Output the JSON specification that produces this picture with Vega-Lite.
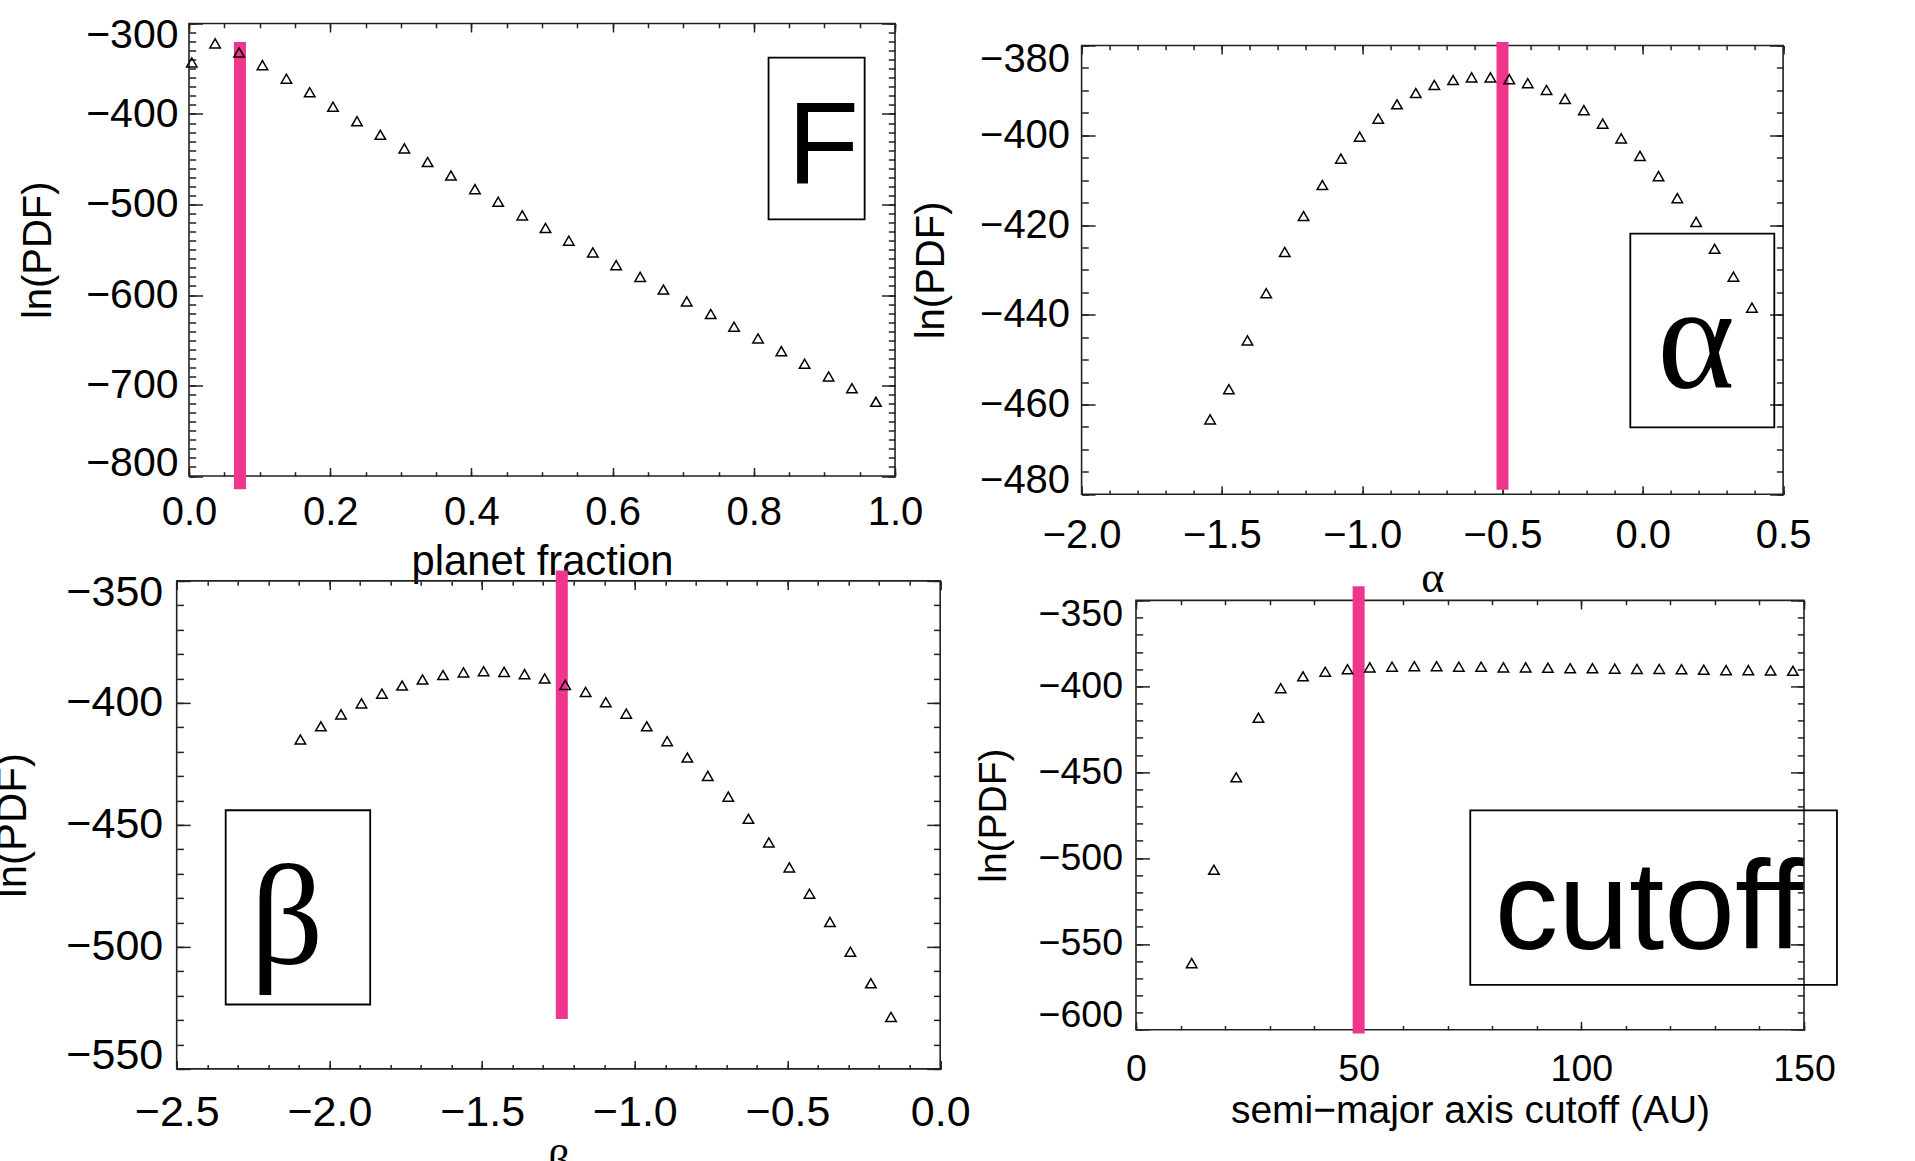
{
  "$schema": "https://vega.github.io/schema/vega-lite/v6.json",
  "background": "white",
  "padding": {"left": -19.6, "top": 13.5, "right": 0, "bottom": 0},
  "config": {
    "view": {"stroke": "#222", "strokeWidth": 1.6},
    "axis": {"grid": false, "domain": false, "labelFont": "Liberation Sans", "titleFont": "Liberation Sans", "labelColor": "#000", "titleColor": "#000", "tickColor": "#222", "tickWidth": 1.5, "labelOverlap": false, "labelBound": false, "titleFontWeight": "normal", "labelAngle": 0, "minExtent": 0, "maxExtent": 400}
  },
  "columns": 1,
  "align": "none",
  "spacing": -38.6,
  "concat": [
    {
      "spacing": -13.4,
      "hconcat": [
        {"width": 49.4, "height": 1, "data": {"values": []}, "mark": "point", "view": {"stroke": null, "fill": "transparent"}},
        {
          "width": 706, "height": 452.5,
          "resolve": {"axis": {"x": "independent", "y": "independent"}},
          "layer": [
            {"data": {"values": [{}]}, "mark": {"type": "rect", "filled": false, "stroke": "#000", "strokeWidth": 1.8},
             "encoding": {
               "x": {"datum": 0.8209, "type": "quantitative", "scale": {"domain": [0, 1], "nice": false, "zero": false}, "axis": {"orient": "bottom", "values": [0,0.05,0.1,0.15,0.2,0.25,0.3,0.35,0.4,0.45,0.5,0.55,0.6,0.65,0.7,0.75,0.8,0.85,0.9,0.95,1], "labels": false, "tickSize": -4.3, "title": null}},
               "x2": {"datum": 0.957},
               "y": {"datum": -337.7, "type": "quantitative", "scale": {"domain": [-800, -300], "nice": false, "zero": false}, "axis": {"orient": "left", "values": [-800,-790,-780,-770,-760,-750,-740,-730,-720,-710,-700,-690,-680,-670,-660,-650,-640,-630,-620,-610,-600,-590,-580,-570,-560,-550,-540,-530,-520,-510,-500,-490,-480,-470,-460,-450,-440,-430,-420,-410,-400,-390,-380,-370,-360,-350,-340,-330,-320,-310,-300], "labels": false, "tickSize": -6.7, "title": null}},
               "y2": {"datum": -516.4}}},
            {"data": {"values": [{}]}, "mark": {"type": "rule", "color": "#F0368C", "strokeWidth": 12, "strokeCap": "butt"},
             "encoding": {
               "x": {"datum": 0.0722, "type": "quantitative", "scale": {"domain": [0, 1], "nice": false, "zero": false}, "axis": {"orient": "top", "values": [0,0.2,0.4,0.6,0.8,1], "labels": false, "tickSize": -8.5, "title": null}},
               "y": {"datum": -320.4, "type": "quantitative", "scale": {"domain": [-800, -300], "nice": false, "zero": false}, "axis": {"orient": "right", "values": [-800,-700,-600,-500,-400,-300], "labels": false, "tickSize": -13.5, "title": null}},
               "y2": {"datum": -814.7}}},
            {"data": {"values": [{}]}, "mark": {"type": "text", "text": "F", "font": "Liberation Sans", "fontSize": 117, "align": "center", "baseline": "alphabetic", "color": "#000"},
             "encoding": {
               "x": {"datum": 0.8985, "type": "quantitative", "scale": {"domain": [0, 1], "nice": false, "zero": false}, "axis": {"orient": "top", "values": [0,0.05,0.1,0.15,0.2,0.25,0.3,0.35,0.4,0.45,0.5,0.55,0.6,0.65,0.7,0.75,0.8,0.85,0.9,0.95,1], "labels": false, "tickSize": -4.3, "title": null}},
               "y": {"datum": -477.3, "type": "quantitative", "scale": {"domain": [-800, -300], "nice": false, "zero": false}, "axis": {"orient": "right", "values": [-800,-790,-780,-770,-760,-750,-740,-730,-720,-710,-700,-690,-680,-670,-660,-650,-640,-630,-620,-610,-600,-590,-580,-570,-560,-550,-540,-530,-520,-510,-500,-490,-480,-470,-460,-450,-440,-430,-420,-410,-400,-390,-380,-370,-360,-350,-340,-330,-320,-310,-300], "labels": false, "tickSize": -6.7, "title": null}}}},
            {"data": {"values": [
              {"x": 0.004, "y": -343}, {"x": 0.037, "y": -322}, {"x": 0.071, "y": -332}, {"x": 0.104, "y": -346}, {"x": 0.138, "y": -361},
              {"x": 0.171, "y": -376}, {"x": 0.204, "y": -392}, {"x": 0.238, "y": -408}, {"x": 0.271, "y": -423}, {"x": 0.305, "y": -438},
              {"x": 0.338, "y": -453}, {"x": 0.371, "y": -468}, {"x": 0.405, "y": -483}, {"x": 0.438, "y": -497}, {"x": 0.472, "y": -512},
              {"x": 0.505, "y": -526}, {"x": 0.538, "y": -540}, {"x": 0.572, "y": -553}, {"x": 0.605, "y": -567}, {"x": 0.639, "y": -580},
              {"x": 0.672, "y": -594}, {"x": 0.705, "y": -607}, {"x": 0.739, "y": -621}, {"x": 0.772, "y": -635}, {"x": 0.806, "y": -648},
              {"x": 0.839, "y": -662}, {"x": 0.872, "y": -676}, {"x": 0.906, "y": -690}, {"x": 0.939, "y": -703}, {"x": 0.973, "y": -718}]},
             "mark": {"type": "point", "shape": "triangle-up", "filled": false, "stroke": "#000", "strokeWidth": 1.5, "size": 110, "opacity": 1},
             "encoding": {
               "x": {"field": "x", "type": "quantitative", "scale": {"domain": [0, 1], "nice": false, "zero": false}, "axis": {"orient": "bottom", "values": [0,0.2,0.4,0.6,0.8,1], "format": ".1f", "tickSize": -8.5, "labelPadding": 24.5, "labelFontSize": 40, "labelFlush": false, "title": "planet fraction", "titleFontSize": 41.7, "titleBaseline": "alphabetic", "titlePadding": 42.7}},
               "y": {"field": "y", "type": "quantitative", "scale": {"domain": [-800, -300], "nice": false, "zero": false}, "axis": {"orient": "left", "values": [-800,-700,-600,-500,-400,-300], "format": "d", "tickSize": -13.5, "labelPadding": 24.5, "labelFontSize": 41, "labelFlush": true, "labelFlushOffset": 8, "title": "ln(PDF)", "titleFontSize": 40, "titleAngle": 270, "titleBaseline": "bottom", "titlePadding": 27.5}}}}
          ]
        },
        {
          "spacing": 0,
          "vconcat": [
            {"width": 1, "height": 10.1, "data": {"values": []}, "mark": "point", "view": {"stroke": null, "fill": "transparent"}},
            {
              "width": 701.5, "height": 448.8,
              "resolve": {"axis": {"x": "independent", "y": "independent"}},
              "layer": [
                {"data": {"values": [{}]}, "mark": {"type": "rect", "filled": false, "stroke": "#000", "strokeWidth": 1.8},
                 "encoding": {
                   "x": {"datum": -0.0445, "type": "quantitative", "scale": {"domain": [-2, 0.5], "nice": false, "zero": false}, "axis": {"orient": "bottom", "values": [-2,-1.9,-1.8,-1.7,-1.6,-1.5,-1.4,-1.3,-1.2,-1.1,-1,-0.9,-0.8,-0.7,-0.6,-0.5,-0.4,-0.3,-0.2,-0.1,0,0.1,0.2,0.3,0.4,0.5], "labels": false, "tickSize": -4.3, "title": null}},
                   "x2": {"datum": 0.4687},
                   "y": {"datum": -421.9, "type": "quantitative", "scale": {"domain": [-480, -380], "nice": false, "zero": false}, "axis": {"orient": "left", "values": [-480,-475,-470,-465,-460,-455,-450,-445,-440,-435,-430,-425,-420,-415,-410,-405,-400,-395,-390,-385,-380], "labels": false, "tickSize": -6.7, "title": null}},
                   "y2": {"datum": -465.1}}},
                {"data": {"values": [{}]}, "mark": {"type": "rule", "color": "#F0368C", "strokeWidth": 12, "strokeCap": "butt"},
                 "encoding": {
                   "x": {"datum": -0.5, "type": "quantitative", "scale": {"domain": [-2, 0.5], "nice": false, "zero": false}, "axis": {"orient": "top", "values": [-2,-1.5,-1,-0.5,0,0.5], "labels": false, "tickSize": -8.5, "title": null}},
                   "y": {"datum": -379.2, "type": "quantitative", "scale": {"domain": [-480, -380], "nice": false, "zero": false}, "axis": {"orient": "right", "values": [-480,-460,-440,-420,-400,-380], "labels": false, "tickSize": -13.5, "title": null}},
                   "y2": {"datum": -479}}},
                {"data": {"values": [{}]}, "mark": {"type": "text", "text": "α", "font": "Liberation Serif", "fontSize": 148, "align": "center", "baseline": "alphabetic", "color": "#000"},
                 "encoding": {
                   "x": {"datum": 0.19, "type": "quantitative", "scale": {"domain": [-2, 0.5], "nice": false, "zero": false}, "axis": {"orient": "top", "values": [-2,-1.9,-1.8,-1.7,-1.6,-1.5,-1.4,-1.3,-1.2,-1.1,-1,-0.9,-0.8,-0.7,-0.6,-0.5,-0.4,-0.3,-0.2,-0.1,0,0.1,0.2,0.3,0.4,0.5], "labels": false, "tickSize": -4.3, "title": null}},
                   "y": {"datum": -456.3, "type": "quantitative", "scale": {"domain": [-480, -380], "nice": false, "zero": false}, "axis": {"orient": "right", "values": [-480,-475,-470,-465,-460,-455,-450,-445,-440,-435,-430,-425,-420,-415,-410,-405,-400,-395,-390,-385,-380], "labels": false, "tickSize": -6.7, "title": null}}}},
                {"data": {"values": [
                  {"x": -1.542, "y": -463.3}, {"x": -1.475, "y": -456.6}, {"x": -1.409, "y": -445.7}, {"x": -1.342, "y": -435.2}, {"x": -1.276, "y": -426.0},
                  {"x": -1.209, "y": -418.0}, {"x": -1.142, "y": -411.1}, {"x": -1.076, "y": -405.2}, {"x": -1.009, "y": -400.3}, {"x": -0.943, "y": -396.3},
                  {"x": -0.876, "y": -393.1}, {"x": -0.809, "y": -390.6}, {"x": -0.743, "y": -388.8}, {"x": -0.676, "y": -387.7}, {"x": -0.61, "y": -387.1},
                  {"x": -0.543, "y": -387.1}, {"x": -0.476, "y": -387.5}, {"x": -0.41, "y": -388.4}, {"x": -0.343, "y": -389.9}, {"x": -0.277, "y": -391.9},
                  {"x": -0.21, "y": -394.4}, {"x": -0.143, "y": -397.4}, {"x": -0.077, "y": -400.7}, {"x": -0.01, "y": -404.6}, {"x": 0.056, "y": -409.1},
                  {"x": 0.123, "y": -414.0}, {"x": 0.19, "y": -419.3}, {"x": 0.256, "y": -425.3}, {"x": 0.323, "y": -431.5}, {"x": 0.389, "y": -438.4}]},
                 "mark": {"type": "point", "shape": "triangle-up", "filled": false, "stroke": "#000", "strokeWidth": 1.5, "size": 110, "opacity": 1},
                 "encoding": {
                   "x": {"field": "x", "type": "quantitative", "scale": {"domain": [-2, 0.5], "nice": false, "zero": false}, "axis": {"orient": "bottom", "values": [-2,-1.5,-1,-0.5,0,0.5], "format": ".1f", "tickSize": -8.5, "labelPadding": 29.5, "labelFontSize": 40, "labelFlush": false, "title": "α", "titleFont": "Liberation Serif", "titleFontSize": 44, "titleBaseline": "alphabetic", "titlePadding": 36.2}},
                   "y": {"field": "y", "type": "quantitative", "scale": {"domain": [-480, -380], "nice": false, "zero": false}, "axis": {"orient": "left", "values": [-480,-460,-440,-420,-400,-380], "format": "d", "tickSize": -13.5, "labelPadding": 25.5, "labelFontSize": 40, "labelFlush": true, "labelFlushOffset": 6, "title": "ln(PDF)", "titleFontSize": 40, "titleAngle": 270, "titleBaseline": "bottom", "titlePadding": 27.5}}}}
              ]
            }
          ]
        }
      ]
    },
    {
      "spacing": 1.3,
      "hconcat": [
        {"width": 9, "height": 1, "data": {"values": []}, "mark": "point", "view": {"stroke": null, "fill": "transparent"}},
        {
          "width": 763.5, "height": 488,
          "resolve": {"axis": {"x": "independent", "y": "independent"}},
          "layer": [
            {"data": {"values": [{}]}, "mark": {"type": "rect", "filled": false, "stroke": "#000", "strokeWidth": 1.8},
             "encoding": {
               "x": {"datum": -2.3396, "type": "quantitative", "scale": {"domain": [-2.5, 0], "nice": false, "zero": false}, "axis": {"orient": "bottom", "values": [-2.5,-2.4,-2.3,-2.2,-2.1,-2,-1.9,-1.8,-1.7,-1.6,-1.5,-1.4,-1.3,-1.2,-1.1,-1,-0.9,-0.8,-0.7,-0.6,-0.5,-0.4,-0.3,-0.2,-0.1,0], "labels": false, "tickSize": -4.3, "title": null}},
               "x2": {"datum": -1.8664},
               "y": {"datum": -444.0, "type": "quantitative", "scale": {"domain": [-550, -350], "nice": false, "zero": false}, "axis": {"orient": "left", "values": [-550,-540,-530,-520,-510,-500,-490,-480,-470,-460,-450,-440,-430,-420,-410,-400,-390,-380,-370,-360,-350], "labels": false, "tickSize": -6.7, "title": null}},
               "y2": {"datum": -523.6}}},
            {"data": {"values": [{}]}, "mark": {"type": "rule", "color": "#F0368C", "strokeWidth": 12, "strokeCap": "butt"},
             "encoding": {
               "x": {"datum": -1.239, "type": "quantitative", "scale": {"domain": [-2.5, 0], "nice": false, "zero": false}, "axis": {"orient": "top", "values": [-2.5,-2,-1.5,-1,-0.5,0], "labels": false, "tickSize": -8.5, "title": null}},
               "y": {"datum": -345.7, "type": "quantitative", "scale": {"domain": [-550, -350], "nice": false, "zero": false}, "axis": {"orient": "right", "values": [-550,-500,-450,-400,-350], "labels": false, "tickSize": -13.5, "title": null}},
               "y2": {"datum": -529.5}}},
            {"data": {"values": [{}]}, "mark": {"type": "text", "text": "β", "font": "Liberation Serif", "fontSize": 144, "align": "center", "baseline": "alphabetic", "color": "#000"},
             "encoding": {
               "x": {"datum": -2.139, "type": "quantitative", "scale": {"domain": [-2.5, 0], "nice": false, "zero": false}, "axis": {"orient": "top", "values": [-2.5,-2.4,-2.3,-2.2,-2.1,-2,-1.9,-1.8,-1.7,-1.6,-1.5,-1.4,-1.3,-1.2,-1.1,-1,-0.9,-0.8,-0.7,-0.6,-0.5,-0.4,-0.3,-0.2,-0.1,0], "labels": false, "tickSize": -4.3, "title": null}},
               "y": {"datum": -507.2, "type": "quantitative", "scale": {"domain": [-550, -350], "nice": false, "zero": false}, "axis": {"orient": "right", "values": [-550,-540,-530,-520,-510,-500,-490,-480,-470,-460,-450,-440,-430,-420,-410,-400,-390,-380,-370,-360,-350], "labels": false, "tickSize": -6.7, "title": null}}}},
            {"data": {"values": [
              {"x": -2.095, "y": -415.0}, {"x": -2.028, "y": -409.6}, {"x": -1.962, "y": -404.7}, {"x": -1.895, "y": -400.2}, {"x": -1.828, "y": -396.2},
              {"x": -1.762, "y": -392.9}, {"x": -1.695, "y": -390.4}, {"x": -1.628, "y": -388.6}, {"x": -1.561, "y": -387.5}, {"x": -1.495, "y": -387.0},
              {"x": -1.428, "y": -387.3}, {"x": -1.361, "y": -388.2}, {"x": -1.295, "y": -390.0}, {"x": -1.228, "y": -392.6}, {"x": -1.161, "y": -395.5},
              {"x": -1.095, "y": -399.7}, {"x": -1.028, "y": -404.4}, {"x": -0.961, "y": -409.6}, {"x": -0.894, "y": -415.7}, {"x": -0.828, "y": -422.4},
              {"x": -0.761, "y": -429.9}, {"x": -0.694, "y": -438.4}, {"x": -0.628, "y": -447.5}, {"x": -0.561, "y": -457.2}, {"x": -0.494, "y": -467.4},
              {"x": -0.428, "y": -478.2}, {"x": -0.361, "y": -489.8}, {"x": -0.294, "y": -502.0}, {"x": -0.227, "y": -514.9}, {"x": -0.161, "y": -528.7}]},
             "mark": {"type": "point", "shape": "triangle-up", "filled": false, "stroke": "#000", "strokeWidth": 1.5, "size": 110, "opacity": 1},
             "encoding": {
               "x": {"field": "x", "type": "quantitative", "scale": {"domain": [-2.5, 0], "nice": false, "zero": false}, "axis": {"orient": "bottom", "values": [-2.5,-2,-1.5,-1,-0.5,0], "format": ".1f", "tickSize": -8.5, "labelPadding": 31.6, "labelFontSize": 43, "labelFlush": false, "title": "β", "titleFont": "Liberation Serif", "titleFontSize": 44, "titleBaseline": "alphabetic", "titlePadding": 40.7}},
               "y": {"field": "y", "type": "quantitative", "scale": {"domain": [-550, -350], "nice": false, "zero": false}, "axis": {"orient": "left", "values": [-550,-500,-450,-400,-350], "format": "d", "tickSize": -13.5, "labelPadding": 27.5, "labelFontSize": 43, "labelFlush": true, "labelFlushOffset": 9, "title": "ln(PDF)", "titleFontSize": 42, "titleAngle": 270, "titleBaseline": "bottom", "titlePadding": 31}}}}
          ]
        },
        {
          "spacing": -7.5,
          "vconcat": [
            {"width": 1, "height": 5, "data": {"values": []}, "mark": "point", "view": {"stroke": null, "fill": "transparent"}},
            {
              "width": 668, "height": 429.4,
              "resolve": {"axis": {"x": "independent", "y": "independent"}},
              "layer": [
                {"data": {"values": [{}]}, "mark": {"type": "rect", "filled": false, "stroke": "#000", "strokeWidth": 1.8},
                 "encoding": {
                   "x": {"datum": 75.06, "type": "quantitative", "scale": {"domain": [0, 150], "nice": false, "zero": false}, "axis": {"orient": "bottom", "values": [0,10,20,30,40,50,60,70,80,90,100,110,120,130,140,150], "labels": false, "tickSize": -4.3, "title": null}},
                   "x2": {"datum": 157.4},
                   "y": {"datum": -472.3, "type": "quantitative", "scale": {"domain": [-600, -350], "nice": false, "zero": false}, "axis": {"orient": "left", "values": [-600,-590,-580,-570,-560,-550,-540,-530,-520,-510,-500,-490,-480,-470,-460,-450,-440,-430,-420,-410,-400,-390,-380,-370,-360,-350], "labels": false, "tickSize": -6.7, "title": null}},
                   "y2": {"datum": -573.9}}},
                {"data": {"values": [{}]}, "mark": {"type": "rule", "color": "#F0368C", "strokeWidth": 12, "strokeCap": "butt"},
                 "encoding": {
                   "x": {"datum": 50, "type": "quantitative", "scale": {"domain": [0, 150], "nice": false, "zero": false}, "axis": {"orient": "top", "values": [0,50,100,150], "labels": false, "tickSize": -8.5, "title": null}},
                   "y": {"datum": -341.7, "type": "quantitative", "scale": {"domain": [-600, -350], "nice": false, "zero": false}, "axis": {"orient": "right", "values": [-600,-550,-500,-450,-400,-350], "labels": false, "tickSize": -13.5, "title": null}},
                   "y2": {"datum": -602.2}}},
                {"data": {"values": [{}]}, "mark": {"type": "text", "text": "cutoff", "font": "Liberation Sans", "fontSize": 127, "align": "center", "baseline": "alphabetic", "color": "#000"},
                 "encoding": {
                   "x": {"datum": 115.2, "type": "quantitative", "scale": {"domain": [0, 150], "nice": false, "zero": false}, "axis": {"orient": "top", "values": [0,10,20,30,40,50,60,70,80,90,100,110,120,130,140,150], "labels": false, "tickSize": -4.3, "title": null}},
                   "y": {"datum": -552.7, "type": "quantitative", "scale": {"domain": [-600, -350], "nice": false, "zero": false}, "axis": {"orient": "right", "values": [-600,-590,-580,-570,-560,-550,-540,-530,-520,-510,-500,-490,-480,-470,-460,-450,-440,-430,-420,-410,-400,-390,-380,-370,-360,-350], "labels": false, "tickSize": -6.7, "title": null}}}},
                {"data": {"values": [
                  {"x": 12.5, "y": -561.2}, {"x": 17.5, "y": -506.8}, {"x": 22.5, "y": -453.0}, {"x": 27.5, "y": -418.3}, {"x": 32.5, "y": -401.1},
                  {"x": 37.5, "y": -394.2}, {"x": 42.5, "y": -391.5}, {"x": 47.5, "y": -390.1}, {"x": 52.5, "y": -389.0}, {"x": 57.5, "y": -388.6},
                  {"x": 62.5, "y": -388.3}, {"x": 67.5, "y": -388.3}, {"x": 72.5, "y": -388.6}, {"x": 77.5, "y": -388.6}, {"x": 82.5, "y": -389.0},
                  {"x": 87.5, "y": -389.0}, {"x": 92.5, "y": -389.2}, {"x": 97.5, "y": -389.5}, {"x": 102.5, "y": -389.5}, {"x": 107.5, "y": -389.7},
                  {"x": 112.5, "y": -389.9}, {"x": 117.5, "y": -389.9}, {"x": 122.5, "y": -390.1}, {"x": 127.5, "y": -390.4}, {"x": 132.5, "y": -390.6},
                  {"x": 137.5, "y": -390.6}, {"x": 142.5, "y": -390.8}, {"x": 147.5, "y": -391.0}]},
                 "mark": {"type": "point", "shape": "triangle-up", "filled": false, "stroke": "#000", "strokeWidth": 1.5, "size": 110, "opacity": 1},
                 "encoding": {
                   "x": {"field": "x", "type": "quantitative", "scale": {"domain": [0, 150], "nice": false, "zero": false}, "axis": {"orient": "bottom", "values": [0,50,100,150], "format": "d", "tickSize": -8.5, "labelPadding": 29.7, "labelFontSize": 37.5, "labelFlush": false, "title": "semi−major axis cutoff (AU)", "titleFontSize": 39, "titleBaseline": "alphabetic", "titlePadding": 34}},
                   "y": {"field": "y", "type": "quantitative", "scale": {"domain": [-600, -350], "nice": false, "zero": false}, "axis": {"orient": "left", "values": [-600,-550,-500,-450,-400,-350], "format": "d", "tickSize": -13.5, "labelPadding": 27, "labelFontSize": 37.5, "labelFlush": true, "labelFlushOffset": 5, "title": "ln(PDF)", "titleFontSize": 39, "titleAngle": 270, "titleBaseline": "bottom", "titlePadding": 24.8}}}}
              ]
            }
          ]
        }
      ]
    }
  ]
}
